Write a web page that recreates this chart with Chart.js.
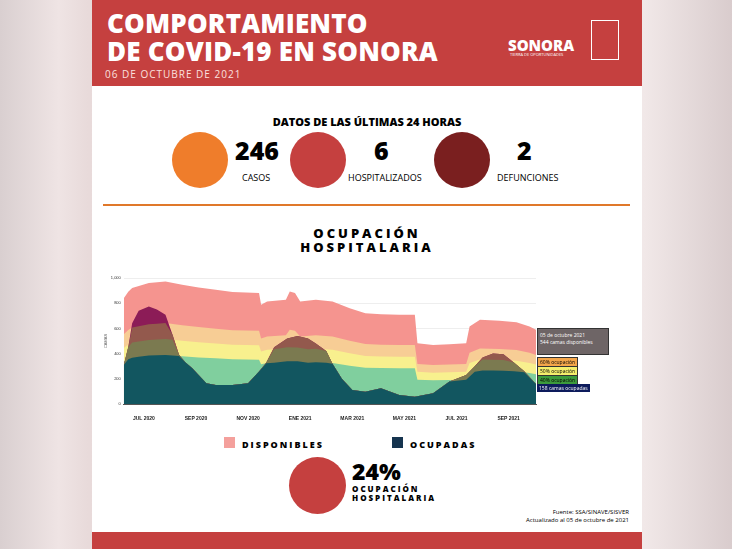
<!DOCTYPE html>
<html><head><meta charset="utf-8">
<script src="https://cdn.jsdelivr.net/npm/chart.js@4/dist/chart.umd.min.js"></script>
<style>
body{margin:0;width:732px;height:549px;overflow:hidden;background:linear-gradient(90deg,#d9cfd0,#efe4e4 8%,#e8dada 12%,#f1e8e8 88%,#d9cccd);font-family:"Open Sans",sans-serif;position:relative}
#card{position:absolute;left:92px;top:0;width:550px;height:549px;background:#fff}
#head{position:absolute;left:0;top:0;width:550px;height:86px;background:#c5403f}
.t{position:absolute;color:#fff;font-weight:800;font-size:26px;line-height:28px;left:15px;top:9px;font-family:"Open Sans";letter-spacing:0.2px}
.abs{position:absolute}
.circ{position:absolute;border-radius:50%}
#foot{position:absolute;left:0;top:532px;width:550px;height:17px;background:#c5403f}
.lbl{position:absolute;font-size:5px;padding:1px 2px;white-space:nowrap}
</style></head><body>
<div id="card">
 <div id="head">
  <div class="t">COMPORTAMIENTO<br>DE COVID-19 EN SONORA</div>
  <div class="abs" style="left:13px;top:67px;color:#fbe0df;font-size:10px;letter-spacing:1px">06 DE OCTUBRE DE 2021</div>
  <div class="abs" style="left:416px;top:35px;color:#fff;font-weight:900;font-size:15px">SONORA</div>
  <div class="abs" style="left:418px;top:52px;color:#fff;font-size:4px">TIERRA DE OPORTUNIDADES</div>
  <div class="abs" style="left:499px;top:20px;width:26px;height:38px;border:1px solid #fff"></div>
 </div>
 <div class="abs" style="left:0;width:550px;top:114px;text-align:center;font-weight:800;font-size:11px">DATOS DE LAS ÚLTIMAS 24 HORAS</div>
 <div class="circ" style="left:80px;top:132px;width:56px;height:56px;background:#ef7d2b"></div>
 <div class="abs" style="left:143px;top:136px;font-weight:900;font-size:25px;line-height:28px">246</div>
 <div class="abs" style="left:150px;top:171px;font-size:9px">CASOS</div>
 <div class="circ" style="left:198px;top:132px;width:56px;height:56px;background:#c5403f"></div>
 <div class="abs" style="left:282px;top:136px;font-weight:900;font-size:25px;line-height:28px">6</div>
 <div class="abs" style="left:256px;top:171px;font-size:9px">HOSPITALIZADOS</div>
 <div class="circ" style="left:342px;top:132px;width:56px;height:56px;background:#7a1f1f"></div>
 <div class="abs" style="left:425px;top:136px;font-weight:900;font-size:25px;line-height:28px">2</div>
 <div class="abs" style="left:405px;top:171px;font-size:9px">DEFUNCIONES</div>
 <div class="abs" style="left:11px;top:204px;width:527px;height:2px;background:#e0782a"></div>
 <div class="abs" style="left:0;width:550px;top:226px;text-align:center;font-weight:800;font-size:13px;line-height:14px;letter-spacing:3px">OCUPACIÓN<br>HOSPITALARIA</div>
 <div class="abs" style="left:8px;top:270px;width:540px;height:160px"><canvas id="c"></canvas></div>
 <div class="lbl" style="left:445px;top:328px;width:66px;height:21px;background:#6e6566;color:#fff;border:1px solid #333;line-height:7px;padding-top:3px">05 de octubre 2021<br>544 camas disponibles</div>
 <div class="lbl" style="left:445px;top:357px;background:#f3a54a;border:1px solid #333">60% ocupación</div>
 <div class="lbl" style="left:445px;top:366px;background:#f4ee6c;border:1px solid #333">50% ocupación</div>
 <div class="lbl" style="left:445px;top:375px;background:#3c9a3c;border:1px solid #333">40% ocupación</div>
 <div class="lbl" style="left:445px;top:384px;background:#0d1b5c;color:#fff">158 camas ocupadas</div>
 <div class="abs" style="left:132px;top:437px;width:11px;height:11px;background:#f4a09c"></div>
 <div class="abs" style="left:150px;top:438px;font-weight:800;font-size:9px;letter-spacing:2px">DISPONIBLES</div>
 <div class="abs" style="left:300px;top:437px;width:11px;height:11px;background:#16344f"></div>
 <div class="abs" style="left:318px;top:438px;font-weight:800;font-size:9px;letter-spacing:2px">OCUPADAS</div>
 <div class="circ" style="left:197px;top:457px;width:57px;height:57px;background:#c5403f"></div>
 <div class="abs" style="left:260px;top:459px;font-weight:900;font-size:23px;line-height:24px">24%</div>
 <div class="abs" style="left:260px;top:484px;font-weight:800;font-size:8px;line-height:9px;letter-spacing:2px">OCUPACIÓN<br>HOSPITALARIA</div>
 <div class="abs" style="left:380px;top:508px;width:157px;text-align:right;font-size:6px;line-height:8px">Fuente: SSA/SINAVE/SISVER<br>Actualizado al 05 de octubre de 2021</div>
 <div id="foot"></div>
</div>
<script>
// months since Jul 2020
const capT = [-0.77,-0.6,-0.45,0.19,0.83,1.47,2.1,2.76,3.4,4.42,4.5,4.73,5.45,5.6,5.8,6.0,6.6,7.24,7.9,8.5,9.1,9.8,10.4,10.5,11.1,11.73,12.37,12.5,12.9,13.65,14.3,14.8,15.05];
const capV = [840,890,920,960,973,946,925,906,888,880,787,813,827,893,880,813,827,813,760,720,713,708,708,482,469,474,482,615,668,660,649,615,590];
const occT = [-0.77,-0.6,-0.45,-0.2,0.19,0.5,0.83,1.1,1.35,1.6,1.86,2.1,2.4,2.76,3.4,4.0,4.42,4.7,5.0,5.5,5.9,6.3,6.6,7.0,7.24,7.6,8.0,8.5,9.1,9.8,10.4,11.1,11.73,12.37,12.7,13.0,13.4,13.8,14.2,14.6,15.05];
const occV = [310,450,641,740,774,750,708,549,390,330,283,230,164,151,151,164,257,330,450,520,540,520,480,420,320,200,111,98,125,72,58,85,178,230,300,370,400,395,330,260,158];
const levels = [0.4, 0.53, 0.66];   // 40%, 50%, 60% bands as drawn
const monthLabels = {0:'JUL 2020',2:'SEP 2020',4:'NOV 2020',6:'ENE 2021',8:'MAR 2021',10:'MAY 2021',12:'JUL 2021',14:'SEP 2021'};

function capAt(t){
    for (let i=1;i<capT.length;i++){
        if (t<=capT[i]){ let f=(t-capT[i-1])/(capT[i]-capT[i-1]); return capV[i-1]+f*(capV[i]-capV[i-1]); }
    }
    return capV[capV.length-1];
}
const cap = capT.map((t,i)=>({x:t,y:capV[i]}));
const band = f => capT.map((t,i)=>({x:t,y:capV[i]*f}));
const occLayer = f => occT.map((t,i)=>({x:t,y:f ? Math.min(occV[i], capAt(t)*f) : occV[i]}));

function ds(data,color,order){
    return {data:data,backgroundColor:color,borderWidth:0,fill:'origin',pointRadius:0,tension:0,order:order};
}
new Chart(document.getElementById('c'),{
    type:'line',
    data:{datasets:[
        ds(occLayer(levels[0]),'#125660',0),
        ds(occLayer(levels[1]),'#7b7a50',1),
        ds(occLayer(levels[2]),'#93594d',2),
        ds(occLayer(0),'#8c1c57',3),
        ds(band(levels[0]),'#80cf9e',4),
        ds(band(levels[1]),'#f8f08e',5),
        ds(band(levels[2]),'#f7cd95',6),
        ds(cap,'#f5948f',7)
    ]},
    options:{
        animation:false,responsive:true,maintainAspectRatio:false,
        layout:{padding:{left:3,right:104,top:8,bottom:4}},
        plugins:{legend:{display:false},tooltip:{enabled:false}},
        scales:{
            x:{type:'linear',min:-0.77,max:15.05,grid:{display:false},border:{color:'#555'},
               afterBuildTicks:a=>{a.ticks=Object.keys(monthLabels).map(k=>({value:+k}));},
               ticks:{font:{size:5,weight:'bold'},color:'#222',padding:4,callback:v=>monthLabels[v]||''}},
            y:{min:0,max:1000,grid:{display:true,color:'#eee',drawTicks:false},border:{display:false},
               title:{display:true,text:'CAMAS',font:{size:4},padding:0},
               ticks:{stepSize:200,font:{size:4},color:'#333',padding:3}}
        }
    }
});
</script>
</body></html>
